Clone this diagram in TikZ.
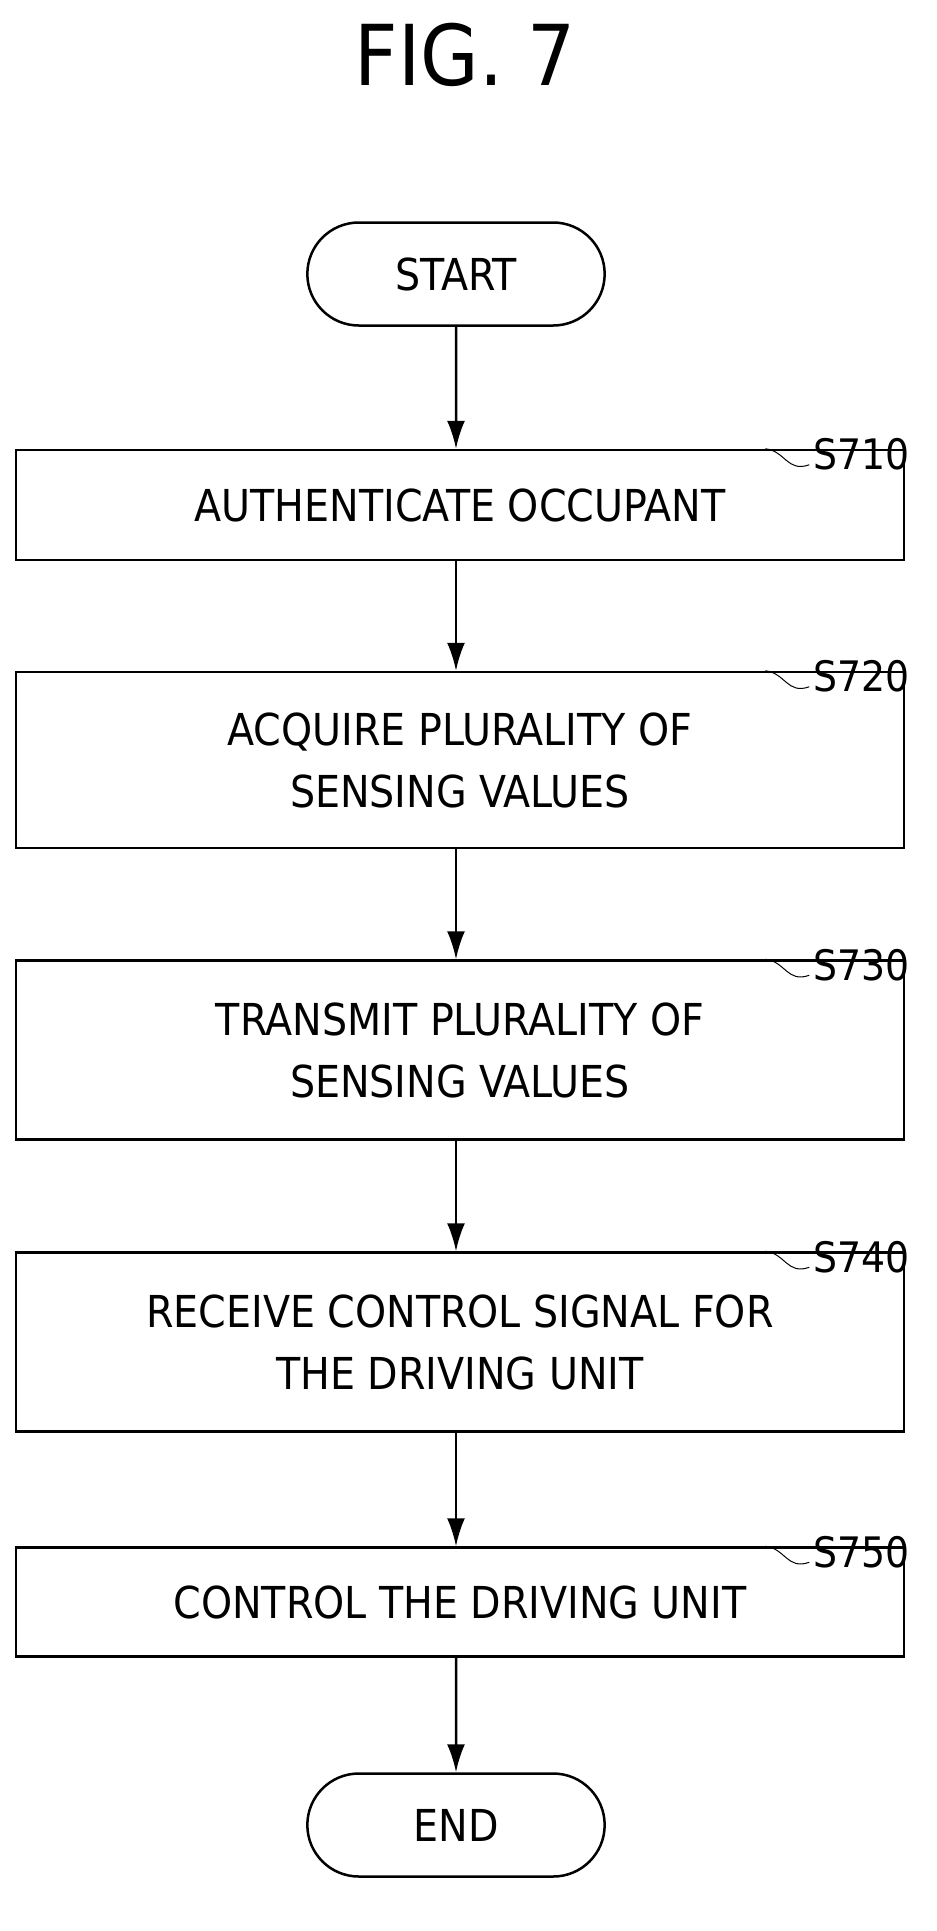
\documentclass[tikz,border=0pt]{standalone}
\usepackage{fontspec}
\setmainfont{DejaVu Sans Condensed}
\usetikzlibrary{shapes.misc, arrows.meta}

\tikzset{
	stepbox/.style = {draw, line width = 2.5pt, minimum width = 888pt, align = center, font = \fontsize{44}{62}\selectfont},
	term/.style = {draw, line width = 2.5pt, rounded rectangle, minimum width = 304pt, minimum height = 103pt, font = \fontsize{44}{52}\selectfont},
	flow/.style = {line width = 2.5pt, -{Latex[length = 28pt, width = 18pt]}},
	tag/.style = {anchor = south west, font = \fontsize{42}{48}\selectfont, inner sep = 0pt},
	leader/.style = {line width = 1pt}
}

\begin{document}
\begin{tikzpicture}[x = 1pt, y = -1pt]
	 \useasboundingbox (0, 0) rectangle (937, 1931);
	 
	 \node[font = \fontsize{84}{90}\selectfont] (title) at (465, 55) {FIG. 7};
	 
	 \node[term] (start) at (456, 274) {START};
	 \node[stepbox, minimum height = 110pt] (s710) at (460, 505) {AUTHENTICATE OCCUPANT};
	 \node[stepbox, minimum height = 176pt] (s720) at (460, 760) {ACQUIRE PLURALITY OF\\SENSING VALUES};
	 \node[stepbox, minimum height = 179pt] (s730) at (460, 1050) {TRANSMIT PLURALITY OF\\SENSING VALUES};
	 \node[stepbox, minimum height = 179pt] (s740) at (460, 1342) {RECEIVE CONTROL SIGNAL FOR\\THE DRIVING UNIT};
	 \node[stepbox, minimum height = 109pt] (s750) at (460, 1602) {CONTROL THE DRIVING UNIT};
	 \node[term] (end) at (456, 1825) {END};
	 
	 \draw[flow] (start) -- (s710.north -| start);
	 \draw[flow] (s710.south -| start) -- (s720.north -| start);
	 \draw[flow] (s720.south -| start) -- (s730.north -| start);
	 \draw[flow] (s730.south -| start) -- (s740.north -| start);
	 \draw[flow] (s740.south -| start) -- (s750.north -| start);
	 \draw[flow] (s750.south -| end) -- (end);
	 
	 % step labels
	 \foreach \s in {710, 720, 730, 740, 750} {
	 \coordinate (c\s) at ([xshift = -140pt] s\s.north east);
	 \node[tag] (t\s) at ([xshift = -92pt, yshift = -22pt] s\s.north east) {S\s};
	 \draw[leader] (c\s) .. controls ([xshift = 20pt, yshift = -2pt] c\s) and ([xshift = 22pt, yshift = -24pt] c\s) .. ([xshift = -4pt, yshift = 6pt] t\s.south west);
	 }
\end{tikzpicture}
\end{document}
